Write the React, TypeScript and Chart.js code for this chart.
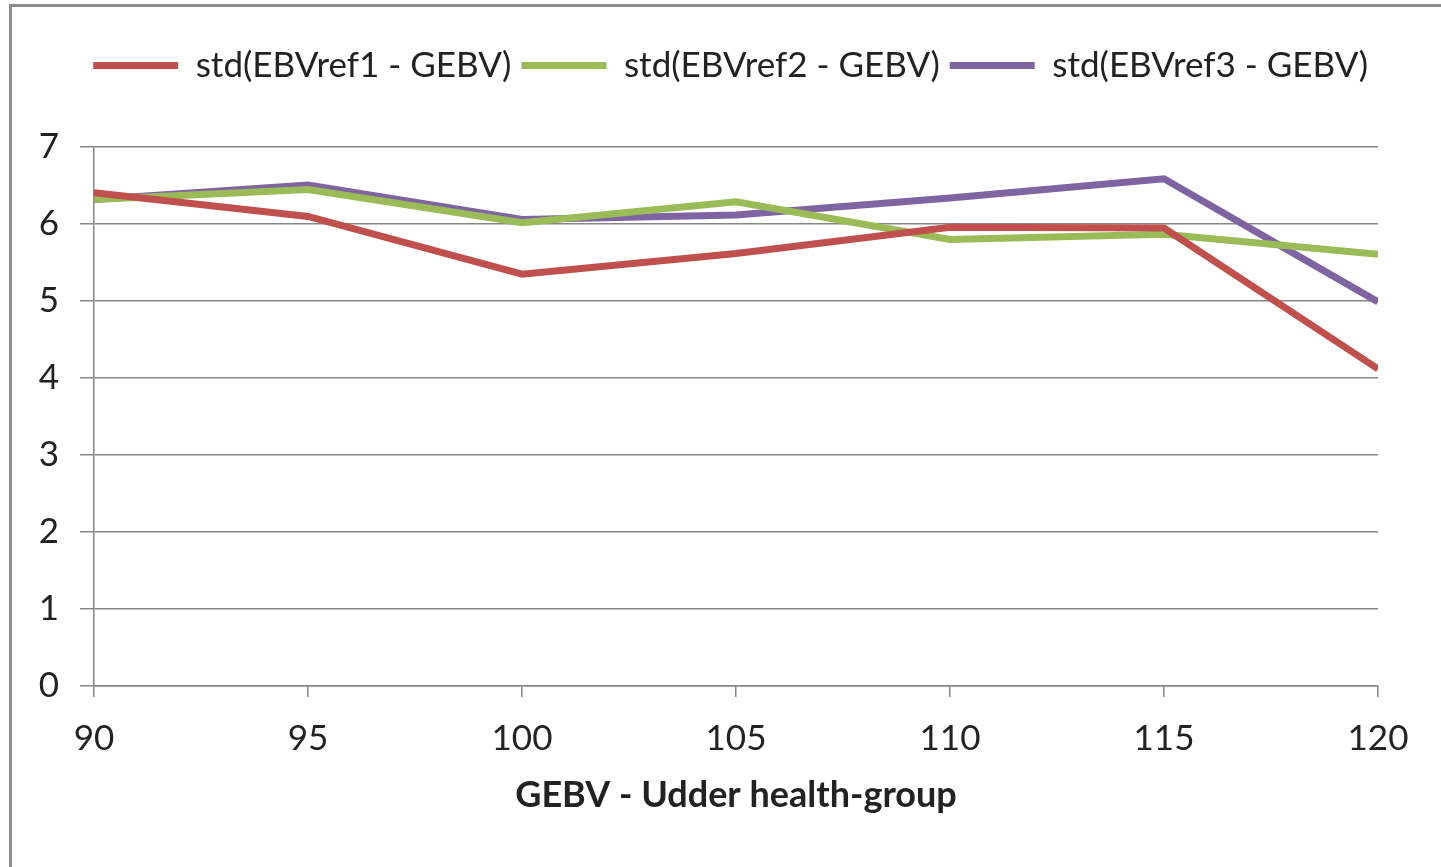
import React, { useEffect, useRef } from "react";
import { Chart, registerables } from "chart.js";

Chart.register(...registerables);

const xValues = [90, 95, 100, 105, 110, 115, 120];
const ref1Values = [6.41, 6.1, 5.35, 5.62, 5.96, 5.95, 4.12];
const ref2Values = [6.32, 6.45, 6.02, 6.29, 5.8, 5.87, 5.61];
const ref3Values = [6.32, 6.51, 6.06, 6.12, 6.34, 6.59, 4.99];
const seriesNames = ["std(EBVref1 - GEBV)", "std(EBVref2 - GEBV)", "std(EBVref3 - GEBV)"];
const seriesColors = ["#C0504D", "#9BBB59", "#8064A2"];
const xTitle = "GEBV - Udder health-group";

const FONT = "Lato, 'Open Sans', sans-serif";
const TEXT = "#222222";
const GRID = "#868686";

export default function App() {
  const canvasRef = useRef<HTMLCanvasElement | null>(null);

  useEffect(() => {
    const canvas = canvasRef.current;
    if (!canvas) return;
    const allValues = [ref1Values, ref2Values, ref3Values];
    const datasets = allValues.map((vals, i) => ({
      label: seriesNames[i],
      data: xValues.map((x, j) => ({ x, y: vals[j] })),
      borderColor: seriesColors[i],
      backgroundColor: seriesColors[i],
      borderWidth: 7,
      pointRadius: 0,
      pointHoverRadius: 0,
      tension: 0,
      pointStyle: "line" as const,
    }));

    const chart = new Chart(canvas, {
      type: "line",
      data: { datasets },
      options: {
        animation: false,
        responsive: false,
        maintainAspectRatio: false,
        layout: { padding: { top: 38, right: 63, left: 0, bottom: 0 } },
        plugins: {
          tooltip: { enabled: false },
          legend: {
            display: true,
            position: "top",
            align: "end",
            labels: {
              usePointStyle: true,
              pointStyle: "line",
              pointStyleWidth: 85,
              padding: 10,
              color: TEXT,
              font: { family: FONT, size: 35 },
            },
          },
          title: {
            display: true,
            position: "top",
            weight: 500,
            text: "",
            font: { size: 1 },
            padding: { top: 0, bottom: 53 },
          },
        },
        scales: {
          x: {
            type: "linear",
            min: 90,
            max: 120,
            ticks: {
              stepSize: 5,
              color: TEXT,
              font: { family: FONT, size: 35 },
              padding: 21,
              maxRotation: 0,
            },
            grid: {
              drawOnChartArea: false,
              drawTicks: true,
              tickLength: 11,
              color: GRID,
              lineWidth: 1.5,
            },
            border: { display: true, color: GRID, width: 1.5 },
            title: {
              display: true,
              text: xTitle,
              color: TEXT,
              font: { family: FONT, size: 36, weight: "bold" },
              padding: { top: 8, bottom: 50 },
            },
            afterFit: (scale: any) => {
              scale.height = 181;
            },
          },
          y: {
            type: "linear",
            min: 0,
            max: 7,
            ticks: {
              stepSize: 1,
              color: TEXT,
              font: { family: FONT, size: 35 },
              padding: 21,
            },
            grid: {
              color: GRID,
              lineWidth: 1.5,
              tickLength: 14,
            },
            border: { display: true, color: GRID, width: 1.5 },
            afterFit: (scale: any) => {
              scale.width = 94;
            },
          },
        },
      },
    });
    return () => chart.destroy();
  }, []);

  return (
    <div style={{ position: "absolute", left: 0, top: 0, width: 1441, height: 867, background: "#fff" }}>
      <canvas ref={canvasRef} width={1441} height={867} style={{ display: "block", width: 1441, height: 867 }} />
      <div
        style={{
          position: "absolute",
          left: 9,
          top: 4,
          width: 1441 - 12,
          height: 867 - 7,
          borderTop: "3px solid #8c8c8c",
          borderLeft: "3px solid #8c8c8c",
          pointerEvents: "none",
        }}
      />
    </div>
  );
}
